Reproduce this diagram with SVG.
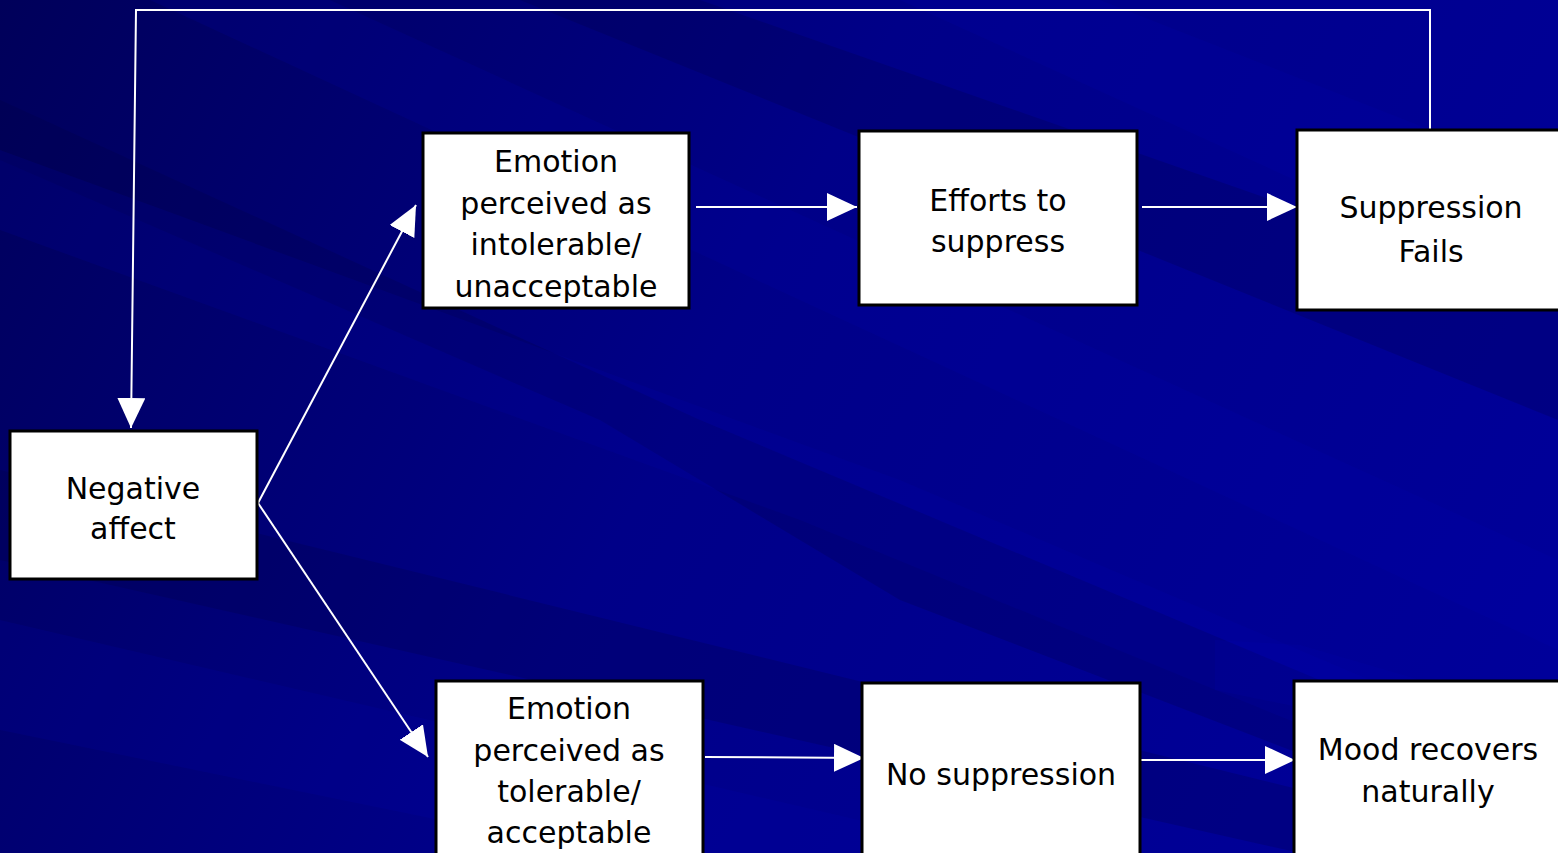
<svg xmlns="http://www.w3.org/2000/svg" width="1558" height="853" viewBox="0 0 1558 853">
<defs>
<linearGradient id="bg" x1="0" y1="0" x2="1558" y2="853" gradientUnits="userSpaceOnUse">
<stop offset="0" stop-color="#00005a"/>
<stop offset="0.45" stop-color="#000088"/>
<stop offset="1" stop-color="#00009c"/>
</linearGradient>
<marker id="ah" markerUnits="userSpaceOnUse" markerWidth="32" markerHeight="30" refX="30" refY="14" orient="auto">
<path d="M0,0 L30,14 L0,28 Z" fill="#ffffff"/>
</marker>
<style>
.box{fill:#ffffff;stroke:#000000;stroke-width:3}
.lbl{font-family:"DejaVu Sans","Verdana",sans-serif;font-size:30px;fill:#000000;text-anchor:middle}
.con{stroke:#ffffff;stroke-width:2;fill:none}
.band{fill:#0000b8;opacity:0.15}
.dark{fill:#000040;opacity:0.22}
</style>
</defs>
<rect x="0" y="0" width="1558" height="853" fill="url(#bg)"/>
<g id="background">
<polygon class="dark" points="0,100 0,160 600,420 900,600 1558,853 1558,780 700,420"/>
<polygon class="band" points="0,150 0,230 800,520 1558,830 1558,760 900,480"/>
<polygon class="band" points="150,0 330,0 1558,560 1558,650"/>
<polygon class="dark" points="520,0 700,0 1558,300 1558,420"/>
<polygon class="band" points="900,0 1100,0 1558,180 1558,300"/>
<polygon class="dark" points="0,470 0,560 1300,853 1558,853"/>
<polygon class="band" points="0,620 0,730 600,853 1000,853"/>
<polygon class="band" points="1215,640 1300,645 1558,720 1558,760 1215,690"/>
</g>
<g id="connectors">
<polyline class="con" points="1430,130 1430,10 136,10 131,428" marker-end="url(#ah)"/>
<line class="con" x1="258" y1="503" x2="416" y2="205" marker-end="url(#ah)"/>
<line class="con" x1="258" y1="503" x2="428" y2="757" marker-end="url(#ah)"/>
<line class="con" x1="696" y1="207" x2="857" y2="207" marker-end="url(#ah)"/>
<line class="con" x1="1142" y1="207" x2="1297" y2="207" marker-end="url(#ah)"/>
<line class="con" x1="705" y1="757" x2="864" y2="758" marker-end="url(#ah)"/>
<line class="con" x1="1140" y1="760" x2="1295" y2="760" marker-end="url(#ah)"/>
</g>
<g id="negative-affect">
<rect class="box" x="10" y="431" width="247" height="148"/>
<text class="lbl" x="133" y="499">Negative</text>
<text class="lbl" x="133" y="539">affect</text>
</g>
<g id="intolerable">
<rect class="box" x="423" y="133" width="266" height="175"/>
<text class="lbl" x="556" y="172">Emotion</text>
<text class="lbl" x="556" y="214">perceived as</text>
<text class="lbl" x="556" y="255">intolerable/</text>
<text class="lbl" x="556" y="297">unacceptable</text>
</g>
<g id="efforts">
<rect class="box" x="859" y="131" width="278" height="174"/>
<text class="lbl" x="998" y="211">Efforts to</text>
<text class="lbl" x="998" y="252">suppress</text>
</g>
<g id="suppression-fails">
<rect class="box" x="1297" y="130" width="264" height="180"/>
<text class="lbl" x="1431" y="218">Suppression</text>
<text class="lbl" x="1431" y="262">Fails</text>
</g>
<g id="tolerable">
<rect class="box" x="436" y="681" width="267" height="175"/>
<text class="lbl" x="569" y="719">Emotion</text>
<text class="lbl" x="569" y="761">perceived as</text>
<text class="lbl" x="569" y="802">tolerable/</text>
<text class="lbl" x="569" y="843">acceptable</text>
</g>
<g id="no-suppression">
<rect class="box" x="862" y="683" width="278" height="173"/>
<text class="lbl" x="1001" y="785">No suppression</text>
</g>
<g id="mood-recovers">
<rect class="box" x="1294" y="681" width="267" height="175"/>
<text class="lbl" x="1428" y="760">Mood recovers</text>
<text class="lbl" x="1428" y="802">naturally</text>
</g>
</svg>
